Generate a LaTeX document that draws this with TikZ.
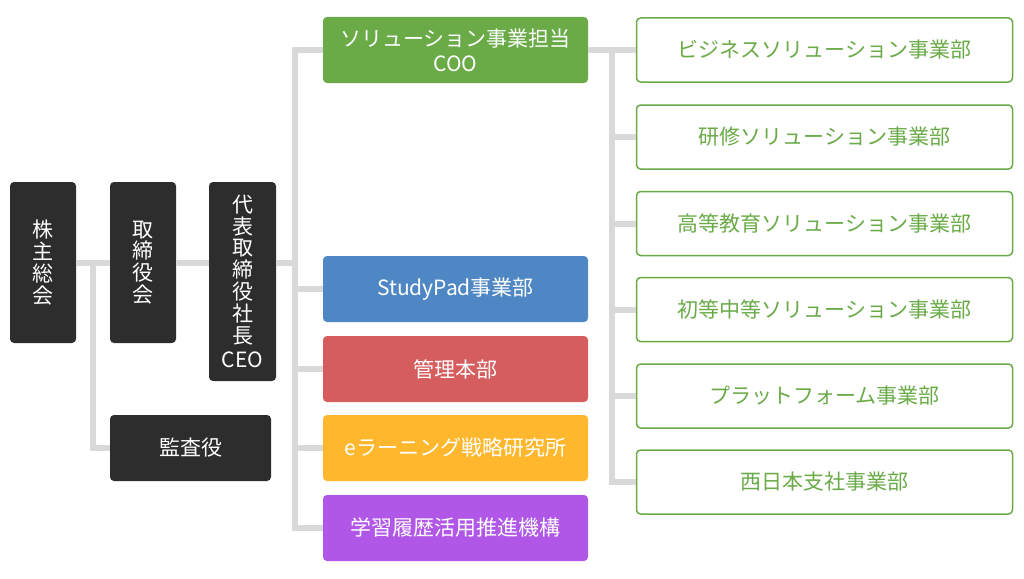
\documentclass[tikz,border=0pt]{standalone}
\usepackage{fontspec}
\setmainfont{Noto Sans CJK JP}
\definecolor{darkbox}{HTML}{2D2D2D}
\definecolor{cgreen}{HTML}{6AAB48}
\definecolor{cblue}{HTML}{4F87C4}
\definecolor{cred}{HTML}{D65D5D}
\definecolor{corange}{HTML}{FFB82E}
\definecolor{cpurple}{HTML}{B157E8}
\definecolor{cline}{HTML}{D9D9D9}
\begin{document}
\begin{tikzpicture}[x=1pt,y=-1pt,
  box/.style={rounded corners=4pt, inner sep=0pt, align=center, text=white,
    font=\fontsize{21}{25}\selectfont},
  dark/.style={box, fill=darkbox, minimum width=66pt, minimum height=161pt,
    font=\fontsize{21}{21.8}\selectfont},
  unit/.style={box, minimum width=265pt, minimum height=66pt},
  dept/.style={box, fill=white, draw=cgreen, line width=1.5pt, text=cgreen,
    minimum width=376pt, minimum height=64pt},
  conn/.style={draw=cline, line width=6pt}]
\useasboundingbox (0,0) rectangle (1024,578);

\node[dark] (kabu) at (43,262.5) {株\\主\\総\\会};
\node[dark] (tori) at (143,262.5) {取\\締\\役\\会};
\node[dark, minimum width=67pt, minimum height=199pt] (ceo) at (242.5,281.5)
  {代\\表\\取\\締\\役\\社\\長\\[3pt]CEO};
\node[dark, minimum width=161pt, minimum height=66pt] (kansa) at (190.5,448) {監査役};

\node[unit, fill=cgreen] (coo) at (455.5,50) {ソリューション事業担当\\COO};
\node[unit, fill=cblue] (sp) at (455.5,289) {StudyPad事業部};
\node[unit, fill=cred] (kanri) at (455.5,369) {管理本部};
\node[unit, fill=corange] (el) at (455.5,448) {eラーニング戦略研究所};
\node[unit, fill=cpurple] (gaku) at (455.5,528) {学習履歴活用推進機構};

\node[dept] (b1) at (824.5,50) {ビジネスソリューション事業部};
\node[dept] (b2) at (824.5,137) {研修ソリューション事業部};
\node[dept] (b3) at (824.5,223.5) {高等教育ソリューション事業部};
\node[dept] (b4) at (824.5,309.5) {初等中等ソリューション事業部};
\node[dept] (b5) at (824.5,396) {プラットフォーム事業部};
\node[dept] (b6) at (824.5,482) {西日本支社事業部};

% left side
\coordinate (j1) at (93,262.5);
\coordinate (t1) at (295,262.5);
\path[conn] (kabu.east) -- (tori.west);
\path[conn] (tori.east) -- (ceo.west |- tori.east);
\path[conn] (ceo.east |- tori.east) -- (t1);
\path[conn] (j1) |- (kansa.west);

% units
\path[conn] (coo.west) -| (t1) |- (gaku.west);
\path[conn] (t1 |- sp.west) -- (sp.west);
\path[conn] (t1 |- kanri.west) -- (kanri.west);
\path[conn] (t1 |- el.west) -- (el.west);

% departments
\coordinate (t2) at (612,50);
\path[conn] (coo.east) -- (b1.west);
\path[conn] (t2) |- (b6.west);
\path[conn] (t2 |- b2.west) -- (b2.west);
\path[conn] (t2 |- b3.west) -- (b3.west);
\path[conn] (t2 |- b4.west) -- (b4.west);
\path[conn] (t2 |- b5.west) -- (b5.west);
\end{tikzpicture}
\end{document}
